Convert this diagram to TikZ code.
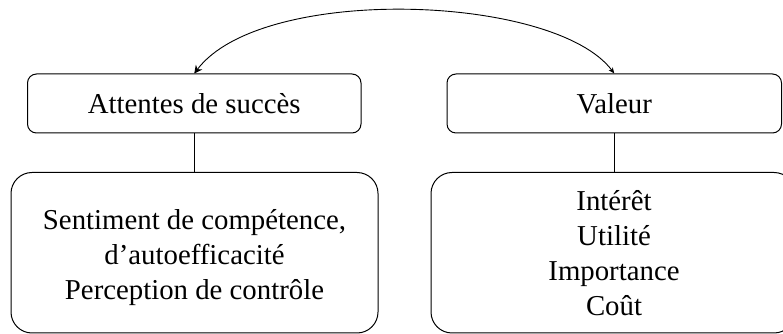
\documentclass[tikz,border=0pt]{standalone}
\usepackage{fontspec}
\setmainfont{Liberation Serif}
\usetikzlibrary{arrows.meta}
\begin{document}
\begin{tikzpicture}[x=1pt,y=1pt,
  every node/.style={font=\fontsize{28.8pt}{35pt}\selectfont},
  topbox/.style={draw,line width=1pt,rounded corners=9pt,inner sep=0pt,
    minimum height=59pt,align=center},
  botbox/.style={draw,line width=1pt,rounded corners=21pt,inner sep=0pt,
    minimum width=#1,minimum height=160.5pt,align=center},
  link/.style={line width=0.9pt}
]
\useasboundingbox (0,0) rectangle (783,334);
\node[topbox,minimum width=333.5pt] (att) at (194.25,230.5) {Attentes de succès};
\node[topbox,minimum width=334.5pt] (val) at (614.25,230.5) {Valeur};
\node[botbox=367pt] (sent) at (194.5,81.25)
  {\rule{0pt}{29pt}Sentiment de compétence,\\ d’autoefficacité\\ Perception de contrôle};
\node[botbox=364pt] (int) at (613,81.25)
  {\hspace*{2pt}Intérêt\\ \hspace*{2pt}Utilité\\ \hspace*{2pt}Importance\\ \hspace*{2pt}Coût};
\draw[link] (att.south) -- (att.south |- sent.north);
\draw[link] (val.south) -- (val.south |- int.north);
\draw[link,{Stealth[length=8pt,width=8pt]}-{Stealth[length=6pt,width=5pt]}]
  (att.north) .. controls (262,350) and (555,340) .. (val.north);
\end{tikzpicture}
\end{document}
